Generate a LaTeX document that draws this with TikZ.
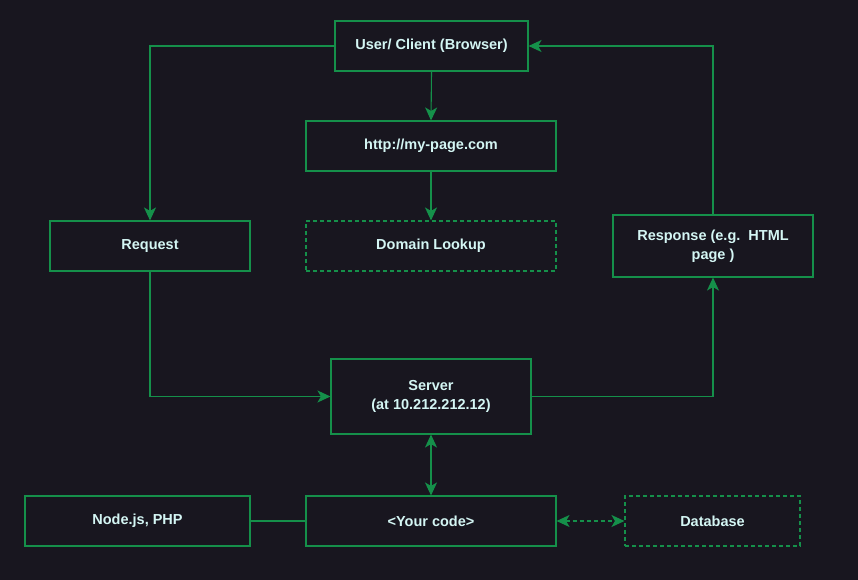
\documentclass[tikz,border=0pt]{standalone}
\usepackage{fontspec}
\setmainfont{Liberation Sans}
\usepackage{xcolor}
\usetikzlibrary{positioning, arrows.meta}

\definecolor{bgdark}{HTML}{18161F}
\definecolor{linegreen}{HTML}{15904A}
\definecolor{textcyan}{HTML}{D4F6F4}

\begin{document}
\begin{tikzpicture}[
            x=1pt, y=-1pt,
            tip/.tip={Stealth[length=13pt, width=12pt, inset=3.5pt]},
            box/.style={rectangle, draw=linegreen, line width=1.1pt, inner sep=0pt,
                align=center, text=textcyan, font=\bfseries\fontsize{14.5}{19}\selectfont},
            dashbox/.style={box, dashed, dash pattern=on 4pt off 3pt},
            link/.style={draw=linegreen, line width=1.1pt, -tip},
        ]
            \fill[bgdark] (0,0) rectangle (858,580);
            \useasboundingbox (0,0) rectangle (858,580);

            \node[box, minimum width=193pt, minimum height=50pt] (user) at (431.5,46) {User/ Client (Browser)};
            \node[box, minimum width=250pt, minimum height=50pt] (url) at (431,146) {http://my-page.com};
            \node[dashbox, minimum width=250pt, minimum height=50pt] (lookup) at (431,246) {Domain Lookup};
            \node[box, minimum width=200pt, minimum height=50pt] (request) at (150,246) {Request};
            \node[box, minimum width=200pt, minimum height=62pt] (response) at (713,246) {Response (e.g.\ \ HTML\\page )};
            \node[box, minimum width=200pt, minimum height=75pt] (server) at (431,396.5) {Server\\(at 10.212.212.12)};
            \node[box, minimum width=225pt, minimum height=50pt] (lang) at (137.5,521) {Node.js, PHP};
            \node[box, minimum width=250pt, minimum height=50pt] (code) at (431,521) {<Your code>};
            \node[dashbox, minimum width=175pt, minimum height=50pt] (db) at (712.5,521) {Database};

            \draw[link] (user.west) -| (request.north);
            \draw[link] (user.south) -- (url.north);
            \draw[link] (url.south) -- (lookup.north);
            \draw[link] (request.south) |- (server.west);
            \draw[link] (server.east) -| (response.south);
            \draw[link] (response.north) |- (user.east);
            \draw[link, tip-tip] (server.south) -- (code.north);
            \draw[link, -] (lang.east) -- (code.west);
            \draw[link, dashed, dash pattern=on 4pt off 3pt, tip-tip] (code.east) -- (db.west);
        \end{tikzpicture}
\end{document}
